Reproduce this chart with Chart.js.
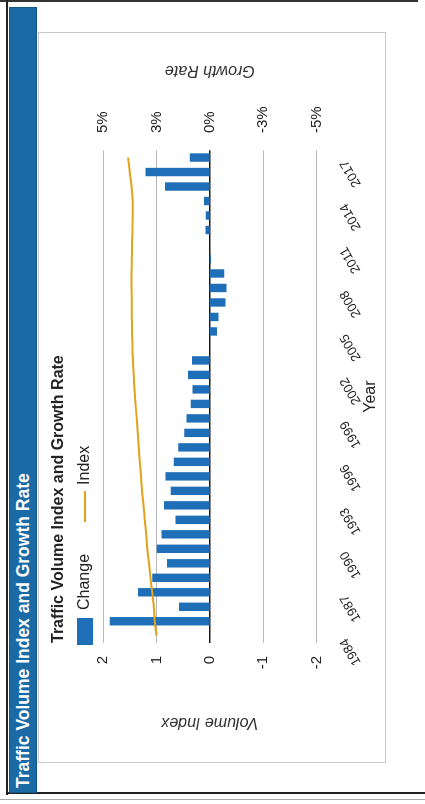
<!DOCTYPE html>
<html>
<head>
<meta charset="utf-8">
<script src="https://cdn.jsdelivr.net/npm/chart.js@4/dist/chart.umd.min.js"></script>
<style>
  html, body { margin: 0; padding: 0; background: #fff; width: 425px; height: 804px; overflow: hidden; }
  .deco { position: absolute; }
  #rot { position: absolute; left: 0; top: 0; width: 804px; height: 425px;
         transform-origin: 0 0; transform: translate(0px, 804px) rotate(-90deg); }
  #banner { position: absolute; left: 11px; top: 9px; width: 786px; height: 28px;
            background: #1a6aa6; border: 1px solid #14578a; box-sizing: border-box;
            color: #fff; font: bold 17.5px "Liberation Sans", Arial, sans-serif;
            line-height: 26px; padding-left: 4px; white-space: nowrap; }
  #box { position: absolute; left: 41px; top: 38px; width: 731px; height: 348px; }
  #box canvas { position: absolute; left: 0; top: 0; }
  #frame { position: absolute; left: 0; top: 0; width: 731px; height: 348px;
           border: 1px solid #c9c9c9; box-sizing: border-box; pointer-events: none; }
</style>
</head>
<body>
<div class="deco" style="left:0;top:0;width:418px;height:2px;background:#333"></div>
<div class="deco" style="left:6px;top:0;width:2px;height:795px;background:#222"></div>
<div class="deco" style="left:6px;top:792px;width:419px;height:2px;background:#222"></div>
<div class="deco" style="left:0;top:799px;width:425px;height:1px;background:#aaa"></div>

<div id="rot">
  <div id="banner">Traffic Volume Index and Growth Rate</div>
  <div id="box">
    <canvas id="c" width="731" height="348" style="width:731px;height:348px"></canvas>
    <div id="frame"></div>
  </div>
</div>

<script>
// ---------------- data ----------------
const years = [1984, 1985, 1986, 1987, 1988, 1989, 1990, 1991, 1992, 1993, 1994, 1995,
               1996, 1997, 1998, 1999, 2000, 2001, 2002, 2003, 2004, 2005, 2006, 2007,
               2008, 2009, 2010, 2011, 2012, 2013, 2014, 2015, 2016, 2017];

// growth rate, percent (bars, right axis)
const changePct = [null, 4.68, 1.44, 3.36, 2.70, 2.01, 2.48, 2.26, 1.61, 2.15, 1.83, 2.08,
                   1.69, 1.48, 1.20, 1.09, 0.89, 0.81, 1.02, 0.83, 0.00, -0.34, -0.40, -0.73,
                   -0.78, -0.67, -0.05, 0.00, 0.20, 0.19, 0.27, 2.10, 3.01, 0.94];

// volume index (line, left axis)
const indexValues = [1.00, 1.03, 1.05, 1.08, 1.11, 1.14, 1.17, 1.19, 1.22, 1.24, 1.27, 1.29,
                     1.31, 1.33, 1.35, 1.37, 1.39, 1.41, 1.425, 1.44, 1.45, 1.455, 1.46, 1.46,
                     1.465, 1.465, 1.46, 1.455, 1.45, 1.445, 1.445, 1.465, 1.50, 1.53];

const shownYears = [1984, 1987, 1990, 1993, 1996, 1999, 2002, 2005, 2008, 2011, 2014, 2017];

const indexTicks = [-2, -1, 0, 1, 2];
const indexTickLabels = ['-2', '-1', '0', '1', '2'];
const rateTicks = [-5, -2.5, 0, 2.5, 5];
const rateTickLabels = ['-5%', '-3%', '0%', '3%', '5%'];

const chartTitle = 'Traffic Volume Index and Growth Rate';
const seriesNames = ['Change', 'Index'];
const indexAxisTitle = 'Volume Index';
const rateAxisTitle = 'Growth Rate';
const yearAxisTitle = 'Year';

// ---------------- styling ----------------
const BLUE = '#1f6fb8';
const GOLD = '#e3a21a';
const FONT = '"Liberation Sans", Arial, sans-serif';
Chart.defaults.font.family = FONT;
Chart.defaults.color = '#222';

function swatch(w, h, color) {
  const c = document.createElement('canvas');
  c.width = w; c.height = h;
  const g = c.getContext('2d');
  g.fillStyle = color; g.fillRect(0, 0, w, h);
  return c;
}
const legendMarks = [swatch(27, 16, BLUE), swatch(31, 2, GOLD)];

const rightTitlePlugin = {
  id: 'rightTitle',
  afterDraw(chart) {
    const s = chart.scales.yRate;
    const ctx = chart.ctx;
    ctx.save();
    ctx.translate(s.right - 38, (s.top + s.bottom) / 2);
    ctx.rotate(-Math.PI / 2);
    ctx.font = 'italic 16px ' + FONT;
    ctx.fillStyle = '#333';
    ctx.textAlign = 'center';
    ctx.textBaseline = 'middle';
    ctx.fillText(rateAxisTitle, 0, 0);
    ctx.restore();
  }
};

new Chart(document.getElementById('c'), {
  type: 'bar',
  data: {
    labels: years.map(String),
    datasets: [
      {
        type: 'bar',
        label: seriesNames[0],
        data: changePct,
        yAxisID: 'yRate',
        backgroundColor: BLUE,
        borderWidth: 0,
        barPercentage: 0.58,
        categoryPercentage: 1.0,
        order: 1
      },
      {
        type: 'line',
        label: seriesNames[1],
        data: indexValues,
        yAxisID: 'yIndex',
        borderColor: GOLD,
        backgroundColor: GOLD,
        borderWidth: 2,
        pointRadius: 0,
        tension: 0.3,
        fill: false,
        order: 0
      }
    ]
  },
  options: {
    responsive: false,
    animation: false,
    layout: { padding: { left: 84, right: 0, top: 0, bottom: 0 } },
    plugins: {
      tooltip: { enabled: false },
      title: {
        display: true,
        text: chartTitle,
        align: 'start',
        fullSize: false,
        color: '#222',
        font: { size: 16, weight: 'bold' },
        padding: { top: 11.4, bottom: -25.6 }
      },
      legend: {
        display: true,
        position: 'top',
        align: 'start',
        labels: {
          usePointStyle: true,
          pointStyleWidth: 27,
          boxHeight: 16,
          padding: 34,
          color: '#222',
          font: { size: 16 },
          sort: (a, b) => a.datasetIndex - b.datasetIndex,
          generateLabels: (chart) => {
            const items = Chart.defaults.plugins.legend.labels.generateLabels(chart);
            items.forEach(it => { it.pointStyle = legendMarks[it.datasetIndex]; });
            return items;
          }
        }
      }
    },
    scales: {
      x: {
        grid: { display: false },
        border: { display: false },
        ticks: {
          autoSkip: false,
          minRotation: 30,
          maxRotation: 30,
          padding: 12,
          labelOffset: -3.5,
          color: '#222',
          font: { size: 13 },
          callback: (v, i) => shownYears.includes(years[i]) ? String(years[i]) : ''
        },
        title: {
          display: true,
          text: yearAxisTitle,
          color: '#222',
          font: { size: 16 },
          padding: { top: 0, bottom: 5.4 }
        },
        afterFit: (s) => { s.height = 69.3; }
      },
      yIndex: {
        position: 'left',
        min: -2,
        max: 2,
        afterBuildTicks: (s) => { s.ticks = indexTicks.map(v => ({ value: v })); },
        ticks: {
          padding: 13,
          color: '#222',
          font: { size: 15 },
          callback: (v) => indexTickLabels[indexTicks.indexOf(v)]
        },
        grid: {
          drawTicks: false,
          color: (c) => (c.tick && c.tick.value === 0) ? '#1a1a1a' : '#b8b8b8',
          lineWidth: (c) => (c.tick && c.tick.value === 0) ? 1.6 : 1
        },
        border: { display: false },
        title: {
          display: true,
          text: indexAxisTitle,
          color: '#333',
          font: { size: 16, style: 'italic' },
          padding: { top: -52.6, bottom: 0 }
        },
        afterFit: (s) => { s.width = 36; }
      },
      yRate: {
        position: 'right',
        min: -5,
        max: 5,
        afterBuildTicks: (s) => { s.ticks = rateTicks.map(v => ({ value: v })); },
        ticks: {
          padding: 17.3,
          color: '#222',
          font: { size: 15 },
          callback: (v) => rateTickLabels[rateTicks.indexOf(v)]
        },
        grid: { display: false, drawTicks: false },
        border: { display: false },
        afterFit: (s) => { s.width = 118.3; }
      }
    }
  },
  plugins: [rightTitlePlugin]
});
</script>
</body>
</html>
